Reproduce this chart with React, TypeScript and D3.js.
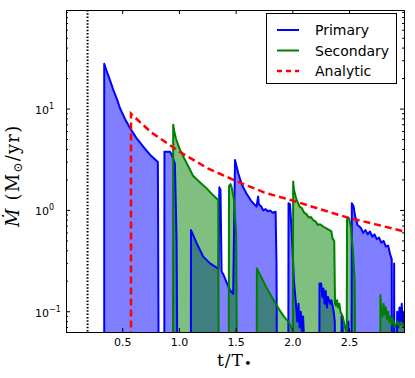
import React from "react";
import * as d3 from "d3";

// ---------- data ----------
const BOTTOM = 0.001; // below visible axis (clipped)

const primaryT = [0.337, 0.337, 0.36, 0.386, 0.417, 0.45, 0.476, 0.52, 0.564, 0.62, 0.681, 0.74, 0.81, 0.822,
  0.866, 0.868, 0.915, 0.93, 0.96, 0.975, 0.99,
  1.1, 1.102, 1.15, 1.21, 1.27, 1.345, 1.352, 1.362, 1.372, 1.39, 1.42, 1.45, 1.474, 1.49, 1.52, 1.55, 1.59, 1.63, 1.68, 1.694, 1.70, 1.72, 1.74, 1.76, 1.78, 1.80, 1.82, 1.848, 1.856, 1.865,
  1.958, 1.962, 1.975, 1.99, 2.01, 2.03, 2.04, 2.05, 2.06, 2.07, 2.08, 2.09, 2.10, 2.12,
  2.232, 2.235, 2.25, 2.26, 2.27, 2.28, 2.29, 2.30, 2.31, 2.33, 2.34, 2.36, 2.37, 2.38,
  2.42, 2.43, 2.44, 2.45, 2.48, 2.49, 2.50,
  2.515, 2.52, 2.535, 2.55, 2.57, 2.60, 2.62, 2.64, 2.66, 2.68, 2.70, 2.72, 2.74, 2.76, 2.78, 2.80, 2.82, 2.84, 2.86, 2.872, 2.876,
  2.89, 2.893, 2.898, 2.92, 2.93, 2.94, 2.95, 2.96, 2.97, 2.98];
const primaryV = [BOTTOM, 28, 23.5, 19.5, 15.5, 12.5, 10.2, 8.0, 6.5, 5.2, 4.27, 3.55, 3.0, BOTTOM,
  BOTTOM, 3.8, 3.8, 3.6, 2.9, 0.5, BOTTOM,
  BOTTOM, 0.64, 0.48, 0.35, 0.3, 0.265, 1.69, 1.6, 0.25, 0.23, 0.19, 0.16, 0.15, 3.15, 2.3, 1.8, 1.48, 1.25, 1.09, 1.37, 1.15, 1.1, 1.0, 1.03, 0.98, 1.0, 0.95, 0.97, 0.3, BOTTOM,
  BOTTOM, 1.18, 1.15, 0.6, 0.2, 0.11, 0.08, 0.12, 0.07, 0.1, 0.065, 0.09, 0.05, BOTTOM,
  BOTTOM, 0.19, 0.19, 0.14, 0.17, 0.12, 0.16, 0.11, 0.14, 0.12, 0.13, 0.1, 0.08, BOTTOM,
  BOTTOM, 0.09, 0.07, BOTTOM, BOTTOM, 0.08, BOTTOM,
  BOTTOM, 1.18, 1.1, 0.87, 0.72, 0.67, 0.6, 0.64, 0.58, 0.62, 0.55, 0.58, 0.52, 0.54, 0.48, 0.5, 0.44, 0.45, 0.36, 0.33, BOTTOM,
  BOTTOM, 0.3, BOTTOM, 0.1, 0.07, 0.11, 0.08, 0.12, 0.075, 0.1];

const secondaryT = [0.943, 0.945, 0.955, 0.97, 1.0, 1.04, 1.08, 1.12, 1.18, 1.24, 1.30, 1.342, 1.35,
  1.433, 1.437, 1.45, 1.46, 1.48, 1.50, 1.515,
  1.68, 1.683, 1.72, 1.76, 1.80, 1.84, 1.88, 1.92, 1.965, 1.99, 2.0, 2.003, 2.01, 2.03, 2.06, 2.08, 2.10, 2.12, 2.14, 2.16, 2.18, 2.20, 2.22, 2.24, 2.27, 2.30, 2.34, 2.35, 2.365, 2.372, 2.38, 2.39, 2.40, 2.41, 2.42, 2.44, 2.46, 2.475,
  2.478, 2.495, 2.51, 2.53, 2.545, 2.56,
  2.77, 2.772, 2.78, 2.79, 2.80, 2.81, 2.82, 2.83, 2.84, 2.85, 2.86, 2.87, 2.88, 2.90, 2.92, 2.94, 2.96, 2.98];
const secondaryV = [BOTTOM, 7.0, 6.0, 5.1, 4.1, 3.3, 2.7, 2.2, 1.9, 1.65, 1.4, 1.27, BOTTOM,
  BOTTOM, 1.75, 1.82, 1.7, 1.3, 0.6, BOTTOM,
  BOTTOM, 0.268, 0.22, 0.18, 0.15, 0.125, 0.105, 0.09, 0.079, 0.068, 0.07, 1.93, 1.6, 1.3, 1.09, 1.05, 0.95, 0.92, 0.85, 0.86, 0.8, 0.78, 0.72, 0.73, 0.69, 0.66, 0.62, 0.53, 0.5, 0.12, 0.115, 0.13, 0.11, 0.12, 0.1, 0.09, 0.07, 0.06,
  0.84, 0.84, 0.7, 0.4, 0.2, BOTTOM,
  BOTTOM, 0.146, 0.1, 0.09, 0.12, 0.095, 0.11, 0.085, 0.1, 0.08, 0.09, 0.075, 0.085, 0.07, 0.08, 0.072, 0.078, 0.07];

const analyticT = [0.573, 0.573, 0.75, 1.0, 1.25, 1.5, 1.75, 2.0, 2.25, 2.5, 2.75, 2.98];
const analyticV = [BOTTOM, 9.0, 5.9, 3.8, 2.6, 1.95, 1.5, 1.25, 1.02, 0.84, 0.72, 0.62];

const xTicks = [0.5, 1.0, 1.5, 2.0, 2.5];
const xTickLabels = ["0.5", "1.0", "1.5", "2.0", "2.5"];
const yMajor = [10, 1, 0.1];
const yMajorExp = ["1", "0", "-1"];
const dottedT = 0.19;

const legendNames = ["Primary", "Secondary", "Analytic"];
const legendColors = ["#0000ff", "#008000", "#ff0000"];

// ---------- layout ----------
const L = 66, R = 404, T = 10, B = 332;

export default function App() {
  const x = d3.scaleLinear().domain([0, 2.98]).range([L, R]);
  const y = d3.scaleLog().domain([Math.pow(10, -1.2), Math.pow(10, 1.978)]).range([B, T]);

  const prim = primaryT.map((t, i) => [t, primaryV[i]] as [number, number]);
  const sec = secondaryT.map((t, i) => [t, secondaryV[i]] as [number, number]);
  const ana = analyticT.map((t, i) => [t, analyticV[i]] as [number, number]);

  const line = d3.line<[number, number]>().x(d => x(d[0])).y(d => y(d[1]));
  const area = d3.area<[number, number]>().x(d => x(d[0])).y0(y(BOTTOM)).y1(d => y(d[1]));

  const minor: { v: number; major: boolean }[] = [];
  for (let dec = -2; dec <= 1; dec++) {
    for (let k = 1; k <= 9; k++) {
      const v = k * Math.pow(10, dec);
      const [lo, hi] = y.domain();
      if (v >= lo && v <= hi) minor.push({ v, major: k === 1 });
    }
  }

  const sans = "DejaVu Sans, sans-serif";
  const serif = "DejaVu Serif, serif";

  return (
    <svg width={415} height={378} style={{ position: "absolute", left: 0, top: 0 }}>
      <defs>
        <clipPath id="plotclip">
          <rect x={L} y={T} width={R - L} height={B - T} />
        </clipPath>
      </defs>
      <rect x={0} y={0} width={415} height={378} fill="#fff" />
      <g clipPath="url(#plotclip)">
        <path d={area(prim) || ""} fill="#0000ff" fillOpacity={0.5} />
        <path d={area(sec) || ""} fill="#008000" fillOpacity={0.5} />
        <path d={line(prim) || ""} fill="none" stroke="#0000ff" strokeWidth={2} strokeLinejoin="round" />
        <path d={line(sec) || ""} fill="none" stroke="#008000" strokeWidth={2} strokeLinejoin="round" />
        <path d={line(ana) || ""} fill="none" stroke="#ff0000" strokeWidth={2.5} strokeDasharray="7,4" />
        <line x1={x(dottedT)} x2={x(dottedT)} y1={T} y2={B} stroke="#000" strokeWidth={2} strokeDasharray="1.5,1.8" />
      </g>
      {/* spines */}
      <rect x={L} y={T} width={R - L} height={B - T} fill="none" stroke="#000" strokeWidth={1} shapeRendering="crispEdges" />
      {/* x ticks */}
      {xTicks.map((t, i) => (
        <g key={"xt" + i}>
          <line x1={x(t)} x2={x(t)} y1={B} y2={B - 4} stroke="#000" strokeWidth={1} />
          <line x1={x(t)} x2={x(t)} y1={T} y2={T + 4} stroke="#000" strokeWidth={1} />
          <text x={x(t)} y={346} textAnchor="middle" fontFamily={sans} fontSize={11}>{xTickLabels[i]}</text>
        </g>
      ))}
      {/* y ticks */}
      {minor.map((m, i) => {
        const len = m.major ? 4 : 2;
        return (
          <g key={"yt" + i}>
            <line x1={L} x2={L + len} y1={y(m.v)} y2={y(m.v)} stroke="#000" strokeWidth={1} />
            <line x1={R} x2={R - len} y1={y(m.v)} y2={y(m.v)} stroke="#000" strokeWidth={1} />
          </g>
        );
      })}
      {yMajor.map((v, i) => (
        <text key={"yl" + i} x={35} y={y(v) + 5} fontFamily={sans} fontSize={11}>
          10<tspan fontSize={8} dy={-5}>{yMajorExp[i].replace("-", "\u2212")}</tspan>
        </text>
      ))}
      {/* axis labels */}
      <text x={217} y={366} fontFamily={serif} fontSize={17} letterSpacing={1}>
        t/T<tspan fontSize={13} dy={2}>{"\u2022"}</tspan>
      </text>
      <text transform="translate(19,227) rotate(-90)" fontFamily={serif} fontSize={18} letterSpacing={1.2}>
        <tspan fontStyle="italic">{"M\u0307"}</tspan>
        <tspan> (M</tspan>
        <tspan fontSize={12} dy={3}>{"\u2299"}</tspan>
        <tspan dy={-3}>/yr)</tspan>
      </text>
      {/* legend */}
      <rect x={266.5} y={13.5} width={130} height={70} fill="#fff" stroke="#000" strokeWidth={1} />
      {legendNames.map((n, i) => {
        const cy = 30 + i * 20.5;
        return (
          <g key={"lg" + i}>
            <line x1={277} x2={299} y1={cy} y2={cy} stroke={legendColors[i]} strokeWidth={i === 2 ? 2.5 : 2}
              strokeDasharray={i === 2 ? "5,4" : undefined} />
            <text x={315} y={cy + 5} fontFamily={sans} fontSize={14}>{n}</text>
          </g>
        );
      })}
    </svg>
  );
}
